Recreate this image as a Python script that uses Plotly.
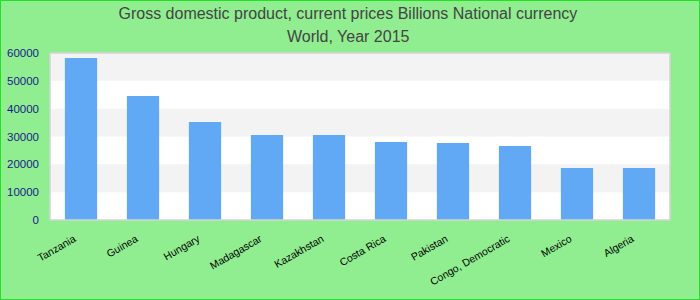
import plotly.graph_objects as go

countries = ["Tanzania", "Guinea", "Hungary", "Madagascar", "Kazakhstan",
             "Costa Rica", "Pakistan", "Congo, Democratic", "Mexico", "Algeria"]
gdp = [58200, 44550, 35200, 30550, 30550, 28000, 27650, 26600, 18700, 18700]
tick_vals = [0, 10000, 20000, 30000, 40000, 50000, 60000]
tick_text = ["0", "10000", "20000", "30000", "40000", "50000", "60000"]
title_line1 = "Gross domestic product, current prices Billions National currency"
title_line2 = "World, Year 2015"

W, H = 700, 300
ml, mr, mt, mb = 50, 30, 53, 80
pw, ph = W - ml - mr, H - mt - mb

fig = go.Figure()
fig.add_trace(go.Bar(x=countries, y=gdp, marker_color="#61a8f5",
                     marker_line_width=0, width=0.52))

shapes = []
# alternating grid bands
for i in range(len(tick_vals) - 1):
    if i % 2 == 1:
        shapes.append(dict(type="rect", xref="paper", yref="y", x0=0, x1=1,
                           y0=tick_vals[i], y1=tick_vals[i + 1],
                           fillcolor="#f3f3f3", line_width=0, layer="below"))
# outer border
shapes.append(dict(type="rect", xref="paper", yref="paper",
                   x0=-(ml - 0.5) / pw, x1=1 + (mr - 0.5) / pw,
                   y0=-(mb - 0.5) / ph, y1=1 + (mt - 0.5) / ph,
                   line=dict(color="#22e022", width=1), fillcolor="rgba(0,0,0,0)",
                   layer="above"))
# plot frame
shapes.append(dict(type="rect", xref="paper", yref="paper", x0=0, x1=1, y0=0, y1=1,
                   line=dict(color="#d3d3d3", width=1.5), fillcolor="rgba(0,0,0,0)",
                   layer="above"))

title_font = dict(size=16, color="#444444")
fig.update_layout(
    width=W, height=H,
    margin=dict(l=ml, r=mr, t=mt, b=mb),
    paper_bgcolor="#90ee90",
    plot_bgcolor="white",
    font=dict(family="Liberation Sans, Arial, sans-serif"),
    title=dict(text=title_line1, x=0.497, xanchor="center",
               y=1 - 13 / H, yanchor="middle", font=title_font),
    annotations=[dict(text=title_line2, xref="paper", yref="paper",
                      x=(348 - ml) / pw, xanchor="center",
                      y=1 + (mt - 36) / ph, yanchor="middle",
                      showarrow=False, font=title_font)],
    showlegend=False,
    shapes=shapes,
    bargap=0.48,
)
fig.update_xaxes(tickangle=-30, tickfont=dict(size=10.5, color="black"),
                 showgrid=False, ticks="", showline=False, automargin=False,
                 ticklabelstandoff=10, ticklabelshift=-7)
fig.update_yaxes(range=[0, 60000], tickvals=tick_vals, ticktext=tick_text,
                 tickfont=dict(size=11.5, color="#1a1a8c"), showgrid=False,
                 zeroline=False, ticks="", showline=False, automargin=False,
                 ticklabelstandoff=10)

fig.write_html("out.html")
